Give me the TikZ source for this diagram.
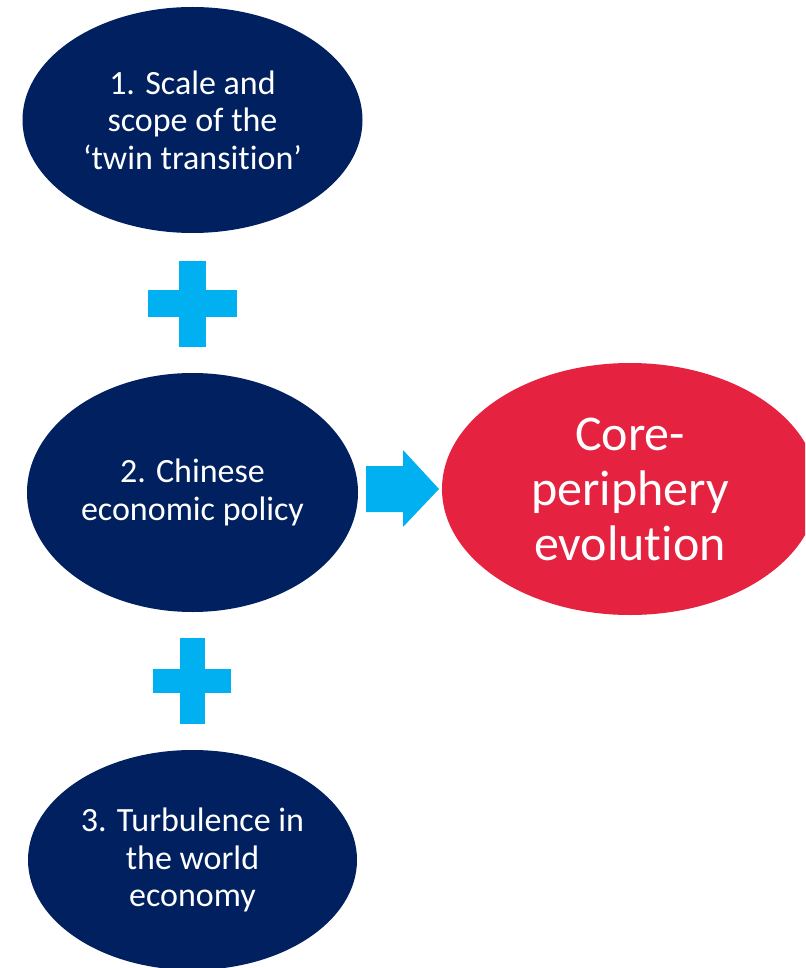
\documentclass[tikz,border=0pt]{standalone}
\usepackage{fontspec}
\setmainfont{Carlito}[Ligatures=CommonOff]
\usetikzlibrary{shapes.geometric}
\definecolor{navy}{HTML}{002060}
\definecolor{plusblue}{HTML}{00B0F0}
\definecolor{redc}{HTML}{E52240}
\begin{document}
\begin{tikzpicture}[x=1pt,y=-1pt,
  blob/.style={ellipse, fill=navy, text=white, inner sep=0pt, align=center,
    font=\fontsize{34}{37.5}\selectfont},
  goal/.style={ellipse, fill=redc, text=white, inner sep=0pt, align=center,
    font=\fontsize{50}{55}\selectfont},
  plusbar/.style={fill=plusblue},
  blockarrow/.style={fill=plusblue}]
\useasboundingbox (0,0) rectangle (805,968);
\clip (0,0) rectangle (805,968);
\node[blob, minimum width=340pt, minimum height=226pt] (e1) at (192.5,120)
  {1. Scale and\\scope of the\\‘twin transit\kern0pt ion’};
\node[blob, minimum width=331pt, minimum height=239pt] (e2) at (192.5,492.5)
  {2. Chinese\\economic policy};
\node[blob, minimum width=329pt, minimum height=220pt] (e3) at (192.5,860)
  {3. Turbulence in\\the world\\economy};
\node[goal, minimum width=376pt, minimum height=252pt] (core) at (630,489)
  {Core-\\periphery\\evolut\kern0pt ion};
% plus signs
\fill[plusbar] (179,261) rectangle (206,347);
\fill[plusbar] (148,290) rectangle (237,317);
\fill[plusbar] (180,638) rectangle (205,724);
\fill[plusbar] (153,669) rectangle (231,693);
% block arrow
\fill[blockarrow] (366,466) -- (403,466) -- (403,450) -- (439,489) -- (403,527)
  -- (403,512) -- (366,512) -- cycle;
\end{tikzpicture}
\end{document}
